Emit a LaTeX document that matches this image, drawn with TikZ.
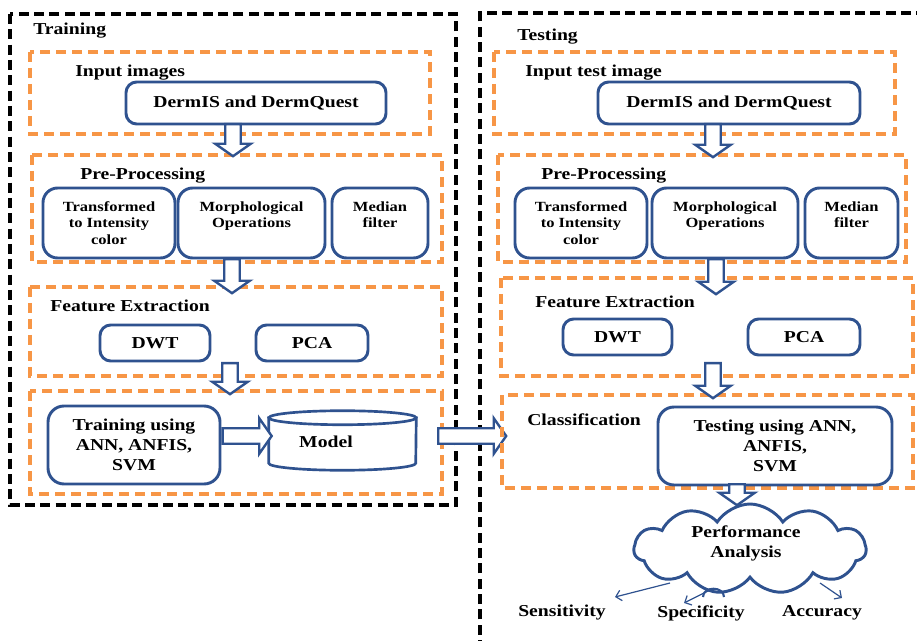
\documentclass[tikz,border=0pt]{standalone}
\usepackage{fontspec}
\setmainfont[FakeStretch=1.18]{Liberation Serif}
\usetikzlibrary{shapes.symbols,shapes.arrows,arrows.meta,calc}
\definecolor{boxblue}{RGB}{47,82,143}
\definecolor{dashorange}{RGB}{247,150,70}
\def\p{0.75pt}
\begin{document}
\begin{tikzpicture}[x=0.75pt,y=-0.75pt,
  every node/.style={font=\bfseries\fontsize{12.5}{15}\selectfont, inner sep=0pt},
  bluebox/.style={draw=boxblue, line width=2.2pt, rounded corners=8pt, fill=white, align=center},
  tallbox/.style={bluebox, rounded corners=11pt, minimum height=70*\p, font=\bfseries\fontsize{10.5}{12.4}\selectfont},
  orangebox/.style={draw=dashorange, line width=2.5pt, dash pattern=on 7.5pt off 4.5pt},
  blackbox/.style={draw=black, line width=2.7pt, dash pattern=on 7.5pt off 4pt},
  blockarrow/.style={single arrow, draw=boxblue, fill=white, line width=1.8pt, single arrow head extend=7.5pt, single arrow tip angle=110, inner ysep=4.9pt, inner xsep=0pt},
  thinarrow/.style={draw=boxblue, line width=0.9pt, -{Straight Barb[length=4pt,width=8pt]}},
  title/.style={anchor=west},
]
\useasboundingbox (0,0) rectangle (917,641);
\clip (0,0) rectangle (917,641);

% outer dashed frames
\draw[blackbox] (10,14) rectangle (456,505);
\draw[blackbox] (480,650) -- (480,13) -- (930,13);
\node[title] (ttrain) at (33,31) {Training};
\node[title] (ttest) at (517,37) {Testing};

% ---------- Training ----------
\draw[orangebox] (30,52) rectangle (430,134);
\node[title] (tin1) at (75,73) {Input images};
\node[bluebox, minimum width=260*\p, minimum height=42*\p] (din1) at (256,103) {DermIS and DermQuest};

\draw[orangebox] (32,155) rectangle (442,262);
\node[title] (tpre1) at (80,176) {Pre-Processing};
\node[tallbox, minimum width=132*\p] (tr1) at (109,223) {Transformed\\to Intensity\\color};
\node[tallbox, minimum width=147*\p] (mo1) at (251.5,223) {Morphological\\Operations\\\mbox{}};
\node[tallbox, minimum width=96*\p] (me1) at (380,223) {Median\\filter\\\mbox{}};

\draw[orangebox] (30,287) rectangle (442,376);
\node[title] (tfe1) at (50,306) {Feature Extraction};
\node[bluebox, minimum width=110*\p, minimum height=36*\p] (dwt1) at (155,343) {DWT};
\node[bluebox, minimum width=112*\p, minimum height=36*\p] (pca1) at (312,343) {PCA};

\draw[orangebox] (30,391) rectangle (442,494);
\node[bluebox, rounded corners=12pt, minimum width=172*\p, minimum height=78*\p] (trn) at (134,445) {Training using\\ANN, ANFIS,\\SVM};
\node[minimum width=147*\p, minimum height=59*\p] (model) at (342.5,440.5) {};
\fill[white, draw=boxblue, line width=2pt]
  ($(model.north west)+(0,7)$) -- ($(model.south west)+(0,-7)$)
  arc[start angle=180, end angle=0, x radius=73.5, y radius=7]
  -- ($(model.north east)+(0,7)$) -- cycle;
\draw[boxblue, line width=2pt, fill=white] ($(model.north)+(0,7)$) ellipse[x radius=73.5, y radius=7];
\node (modeltxt) at (326,442) {Model};

% training arrows
\node[blockarrow, rotate=-90, anchor=tail, minimum height=32*\p] (a1) at (233,123) {};
\node[blockarrow, rotate=-90, anchor=tail, minimum height=34*\p] (a2) at (232,258) {};
\node[blockarrow, rotate=-90, anchor=tail, minimum height=31*\p] (a3) at (230,362) {};
\node[blockarrow, anchor=tail, minimum height=49*\p] (a4) at ($(trn.east)+(0,-9)$) {};
\node[blockarrow, anchor=tail, minimum height=68*\p] (a5) at (437,436) {};

% ---------- Testing ----------
\draw[orangebox] (494,52) rectangle (895,134);
\node[title] (tin2) at (525,73) {Input test image};
\node[bluebox, minimum width=262*\p, minimum height=42*\p] (din2) at (729,103) {DermIS and DermQuest};

\draw[orangebox] (498,155) rectangle (906,262);
\node[title] (tpre2) at (541,176) {Pre-Processing};
\node[tallbox, minimum width=132*\p] (tr2) at (581,223) {Transformed\\to Intensity\\color};
\node[tallbox, minimum width=146*\p] (mo2) at (725,223) {Morphological\\Operations\\\mbox{}};
\node[tallbox, minimum width=93*\p] (me2) at (851.5,223) {Median\\filter\\\mbox{}};

\draw[orangebox] (501,278) rectangle (913,376);
\node[title] (tfe2) at (535,302) {Feature Extraction};
\node[bluebox, minimum width=109*\p, minimum height=36*\p] (dwt2) at (617.5,337) {DWT};
\node[bluebox, minimum width=112*\p, minimum height=36*\p] (pca2) at (804,337) {PCA};

\draw[orangebox] (502,395) rectangle (913,488);
\node[title] (tcl) at (527,420) {Classification};
\node[bluebox, rounded corners=12pt, minimum width=234*\p, minimum height=78*\p] (tst) at (775,446) {Testing using ANN,\\ANFIS,\\SVM};

\node[cloud, cloud puffs=11, cloud puff arc=115, aspect=2.5, draw=boxblue, fill=white, line width=2.2pt, minimum width=232*\p, minimum height=90*\p] (perf) at (750,549) {};
\node[align=center] (perftxt) at (746,543) {Performance\\Analysis};

% testing arrows
\node[blockarrow, rotate=-90, anchor=tail, minimum height=33*\p] (b1) at (713,123) {};
\node[blockarrow, rotate=-90, anchor=tail, minimum height=35*\p] (b2) at (716,258) {};
\node[blockarrow, rotate=-90, anchor=tail, minimum height=35*\p] (b3) at (713,362) {};
\node[blockarrow, rotate=-90, anchor=tail, minimum height=21*\p] (b4) at (737,483) {};

% outputs
\node (sens) at (562,613) {Sensitivity};
\node (spec) at (701,613) {Specificity};
\node (acc) at (822,613) {Accuracy};
\coordinate (s1) at (670,583);
\coordinate (s2) at (615,597);
\coordinate (p1) at (710,590);
\coordinate (p2) at (684,603);
\coordinate (c1) at (820,583);
\coordinate (c2) at (842,598);
\draw[thinarrow] (s1) -- (s2);
\draw[thinarrow] (p1) -- (p2);
\draw[boxblue, line width=1.6pt] (703,597) .. controls (703,586) and (724,586) .. (724,597);
\draw[thinarrow] (c1) -- (c2);
\end{tikzpicture}
\end{document}
